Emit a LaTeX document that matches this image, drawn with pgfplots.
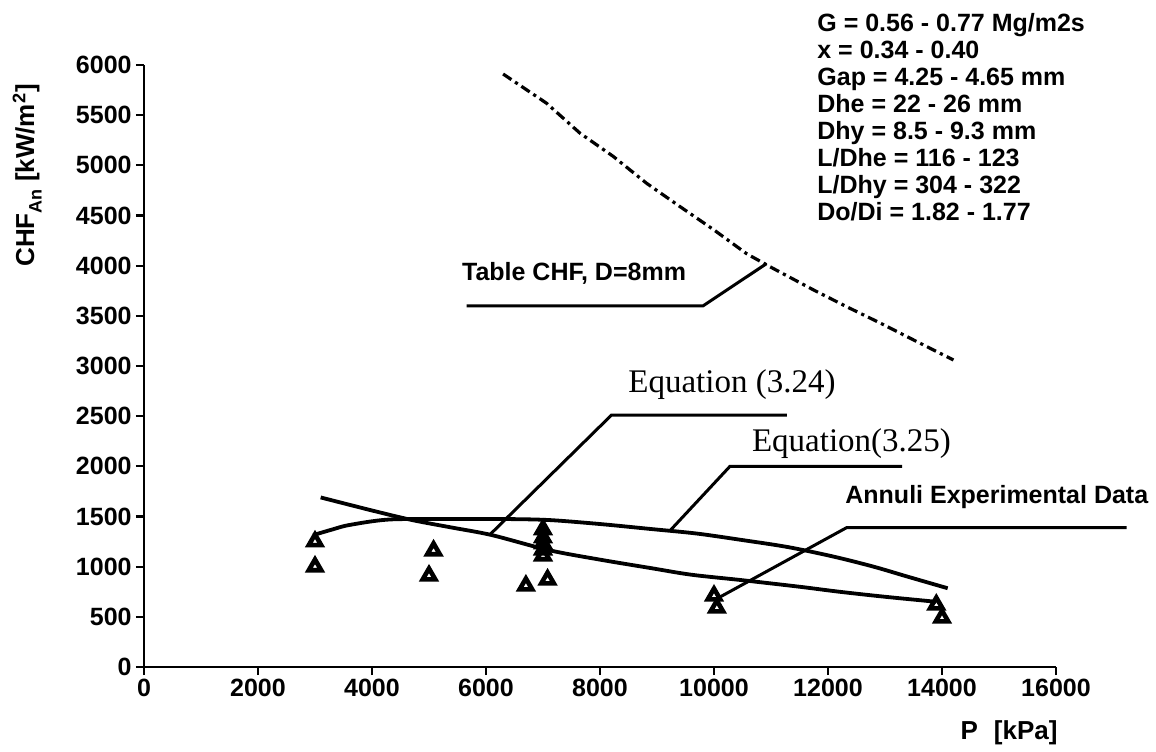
\documentclass[border=0pt]{standalone}
\usepackage{fontspec}
\setmainfont{Liberation Sans}
\newfontfamily\seriffont{Liberation Serif}
\usepackage{pgfplots}
\pgfplotsset{compat=1.18}
\begin{document}
\begin{tikzpicture}
\begin{axis}[
  name=ax,
  scale only axis,
  width=456pt, height=301pt,
  xmin=0, xmax=16000, ymin=0, ymax=6000,
  axis lines=left,
  axis line style={line width=1.4pt, -},
  xtick={0,2000,4000,6000,8000,10000,12000,14000,16000},
  ytick={0,500,1000,1500,2000,2500,3000,3500,4000,4500,5000,5500,6000},
  tick align=outside,
  major tick length=4pt,
  tick style={line width=1.1pt, black},
  scaled ticks=false,
  /pgf/number format/assume math mode=true,
  /pgf/number format/1000 sep={},
  ticklabel style={font=\bfseries\fontsize{12.5}{12.5}\selectfont},
  xticklabel style={inner sep=2pt},
  yticklabel style={inner sep=2pt},
  clip=false,
]
% Table CHF, D=8mm (dash-dot)
\addplot[black, line width=1.6pt, dash pattern=on 5pt off 2.2pt on 1.6pt off 2.2pt] coordinates {
(6300,5910)(7060,5620)(7650,5320)(8230,5090)(8820,4820)(9400,4590)(9990,4360)
(10570,4120)(10980,3990)(11740,3760)(12330,3590)(12910,3430)(13500,3260)(14200,3060)};
% Equation (3.24)
\addplot[black, line width=1.9pt, smooth] coordinates {
(3100,1690)(4000,1560)(4700,1465)(5400,1390)(6100,1315)(7100,1165)(8000,1070)
(8900,985)(9600,920)(10500,865)(11500,800)(12200,750)(13000,700)(13900,650)};
% Equation (3.25)
\addplot[black, line width=1.9pt, smooth] coordinates {
(2970,1315)(3300,1370)(3600,1415)(4300,1470)(5400,1475)(6300,1475)(7100,1465)
(8000,1425)(8900,1375)(9700,1330)(10500,1265)(11300,1195)(12100,1100)(12800,1000)
(13400,900)(14100,785)};
% Annuli experimental data
\addplot[only marks, mark=triangle, mark size=3.6pt, line width=2.3pt, black] coordinates {
(3000,1250)(3000,1000)(5080,1160)(5000,910)(7000,1370)(7000,1290)(7000,1230)
(7000,1170)(7000,1110)(6700,810)(7080,870)(10000,710)(10050,590)(13900,620)(14000,490)};
% leader lines
\addplot[black, line width=1.5pt] coordinates {(5660,3600)(9810,3600)(10920,4020)};
\addplot[black, line width=1.5pt] coordinates {(6070,1320)(8200,2510)(11280,2510)};
\addplot[black, line width=1.5pt] coordinates {(9230,1360)(10280,2000)(13300,2000)};
\addplot[black, line width=1.5pt] coordinates {(10080,690)(12330,1390)(17240,1390)};
% labels
\node[anchor=base west, inner sep=0, font=\bfseries\fontsize{12.5}{12.5}\selectfont] at (axis cs:5574,3850) {Table CHF, D=8mm};
\node[anchor=base west, inner sep=0, font=\seriffont\fontsize{16.5}{16.5}\selectfont] at (axis cs:8491,2731) {Equation (3.24)};
\node[anchor=base west, inner sep=0, font=\seriffont\fontsize{16.5}{16.5}\selectfont] at (axis cs:10661,2143) {Equation(3.25)};
\node[anchor=base west, inner sep=0, font=\bfseries\fontsize{12.5}{12.5}\selectfont] at (axis cs:12298,1625) {Annuli Experimental Data};
% parameter block
\begin{scope}[every node/.style={anchor=base west, inner sep=0, font=\bfseries\fontsize{12.5}{12.5}\selectfont}]
\node at (axis cs:11807,6329) {G = 0.56 - 0.77 Mg/m2s};
\node at (axis cs:11807,6060) {x = 0.34 - 0.40};
\node at (axis cs:11807,5791) {Gap = 4.25 - 4.65 mm};
\node at (axis cs:11807,5522) {Dhe = 22 - 26 mm};
\node at (axis cs:11807,5253) {Dhy = 8.5 - 9.3 mm};
\node at (axis cs:11807,4984) {L/Dhe = 116 - 123};
\node at (axis cs:11807,4715) {L/Dhy = 304 - 322};
\node at (axis cs:11807,4446) {Do/Di = 1.82 - 1.77};
\end{scope}
% axis titles
\node[rotate=90, anchor=center, font=\bfseries\fontsize{13}{13}\selectfont] at (axis cs:-2050,4900) {CHF\raisebox{-0.55ex}{\fontsize{9}{9}\selectfont An} [kW/m\textsuperscript{2}]};
\node[anchor=east, font=\bfseries\fontsize{13}{13}\selectfont] at (axis cs:16150,-660) {P\,\, [kPa]};
\end{axis}
\pgfresetboundingbox
\useasboundingbox (ax.south west) ++(-72pt,-42pt) rectangle ++(578pt,375.5pt);
\end{tikzpicture}
\end{document}
